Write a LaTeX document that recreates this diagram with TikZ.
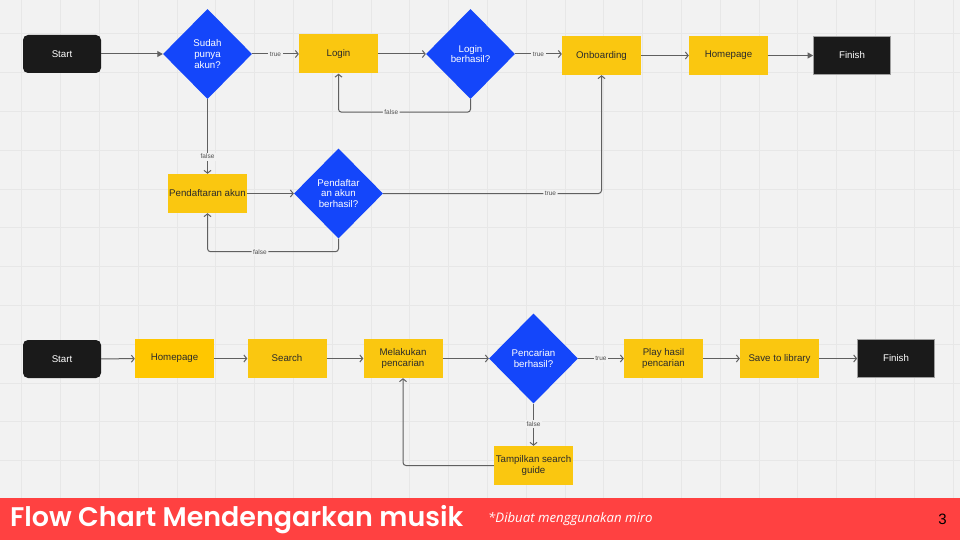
\documentclass[tikz,border=0pt]{standalone}
\usepackage{fontspec}
\setmainfont{Liberation Sans}
\IfFontExistsTF{Poppins SemiBold}{\newfontfamily\titlefont{Poppins SemiBold}\newcommand\titleweight{}}{\newfontfamily\titlefont{Poppins}\newcommand\titleweight{\bfseries}}
\newfontfamily\notefont{Open Sans}
\usetikzlibrary{shapes.geometric,arrows.meta}
\definecolor{bg}{HTML}{F2F2F2}
\definecolor{gridc}{HTML}{E7E7E7}
\definecolor{yel}{HTML}{FAC710}
\definecolor{yel2}{HTML}{FFC700}
\definecolor{blu}{HTML}{1446FA}
\definecolor{blk}{HTML}{1A1A1A}
\definecolor{lin}{HTML}{606060}
\definecolor{txt}{HTML}{2B2B2B}
\definecolor{lbltxt}{HTML}{505050}
\definecolor{foot}{HTML}{FF4141}
\tikzset{
  boxfont/.style={font=\fontsize{9.7}{10.7}\selectfont},
  proc/.style={rectangle, fill=yel, minimum width=79pt, minimum height=39pt, inner sep=1pt, text=txt, align=center, boxfont},
  term/.style={rectangle, rounded corners=5pt, fill=blk, minimum width=78pt, minimum height=38pt, inner sep=1pt, text=white, boxfont},
  fin/.style={rectangle, fill=blk, draw=gray!75, line width=0.8pt, minimum width=77pt, minimum height=38pt, inner sep=1pt, text=white, boxfont},
  dec/.style={diamond, aspect=1, fill=blu, minimum width=89pt, minimum height=90pt, inner sep=0pt, text=white, align=center, boxfont},
  conn/.style={draw=lin, line width=1pt, -{Straight Barb[length=2.8pt,width=7pt]}},
  connf/.style={draw=lin, line width=1pt, -{Triangle[length=5.5pt,width=6pt]}},
  elbow/.style={rounded corners=3pt},
  lbl/.style={fill=bg, inner sep=1.5pt, text=lbltxt, font=\fontsize{6.5}{7.5}\selectfont}
}
\begin{document}
\begin{tikzpicture}[x=1pt,y=-1pt]
\fill[bg] (0,0) rectangle (960,540);
\useasboundingbox (0,0) rectangle (960,540);
% grid
\foreach \i in {0,...,24} {\draw[gridc, line width=0.5pt] (21.7+38.8*\i,0) -- (21.7+38.8*\i,498);}
\foreach \j in {0,...,12} {\draw[gridc, line width=0.5pt] (0,33.7+38.8*\j) -- (960,33.7+38.8*\j);}

% top flow
\node[term] (s1) at (62,54) {Start};
\node[dec] (d1) at (207.5,54) {Sudah\\punya\\akun?};
\node[proc] (login) at (338.5,54) {Login};
\node[dec] (d2) at (470.5,54) {Login\\berhasil?};
\node[proc] (onb) at (601.5,55.5) {Onboarding};
\node[proc] (home1) at (728.5,55.5) {Homepage};
\node[fin] (f1) at (852,55.5) {Finish};
\node[proc] (pend) at (207.5,193.5) {Pendaftaran akun};
\node[dec] (d3) at (338.5,193.5) {Pendaftar\\an akun\\berhasil?};

\draw[connf] (s1) -- (d1);
\draw[conn] (d1) -- node[lbl] {true} (login);
\draw[conn] (login) -- (d2);
\draw[conn] (d2.east) -- node[lbl] {true} (d2.east -| onb.west);
\draw[conn] (onb) -- (home1);
\draw[connf] (home1) -- (f1);
\draw[conn, elbow] (d2.south) -- ++(0,13) -| node[lbl, pos=0.3] {false} (login.south);
\draw[conn] (d1.south) -- node[lbl, pos=0.77] {false} (pend.north);
\draw[conn] (pend) -- (d3);
\draw[conn, elbow] (d3.east) -| node[lbl, pos=0.383] {true} (onb.south);
\draw[conn, elbow] (d3.south) -- ++(0,13) -| node[lbl, pos=0.3] {false} (pend.south);

% bottom flow
\node[term] (s2) at (62,359) {Start};
\node[proc, fill=yel2] (home2) at (174.5,358.5) {Homepage};
\node[proc] (search) at (287,358.5) {Search};
\node[proc] (mel) at (403,358.5) {Melakukan\\pencarian};
\node[dec] (d4) at (533.5,358.5) {Pencarian\\berhasil?};
\node[proc] (play) at (663.5,358.5) {Play hasil\\pencarian};
\node[proc] (save) at (779.5,358.5) {Save to library};
\node[fin] (f2) at (896,358.5) {Finish};
\node[proc] (tamp) at (533.5,465.5) {Tampilkan search\\guide};

\draw[conn] (s2) -- (home2);
\draw[conn] (home2) -- (search);
\draw[conn] (search) -- (mel);
\draw[conn] (mel) -- (d4);
\draw[conn] (d4) -- node[lbl] {true} (play);
\draw[conn] (play) -- (save);
\draw[conn] (save) -- (f2);
\draw[conn] (d4.south) -- node[lbl, pos=0.48] {false} (tamp.north);
\draw[conn, elbow] (tamp.west) -| (mel.south);

% footer
\fill[foot] (0,498) rectangle (960,540);
\node[anchor=west, inner sep=0pt, text=white] (title) at (10,519.5) {\resizebox{453pt}{!}{\titlefont\titleweight Flow Chart Mendengarkan musik}};
\node[anchor=west, inner sep=0pt, text=white, font=\notefont\itshape\fontsize{13.2}{15}\selectfont] (note) at (488,519) {*Dibuat menggunakan miro};
\node[anchor=east, inner sep=0pt, text=black, font=\fontsize{15}{16}\selectfont] (pg) at (947,519) {3};
\end{tikzpicture}
\end{document}
